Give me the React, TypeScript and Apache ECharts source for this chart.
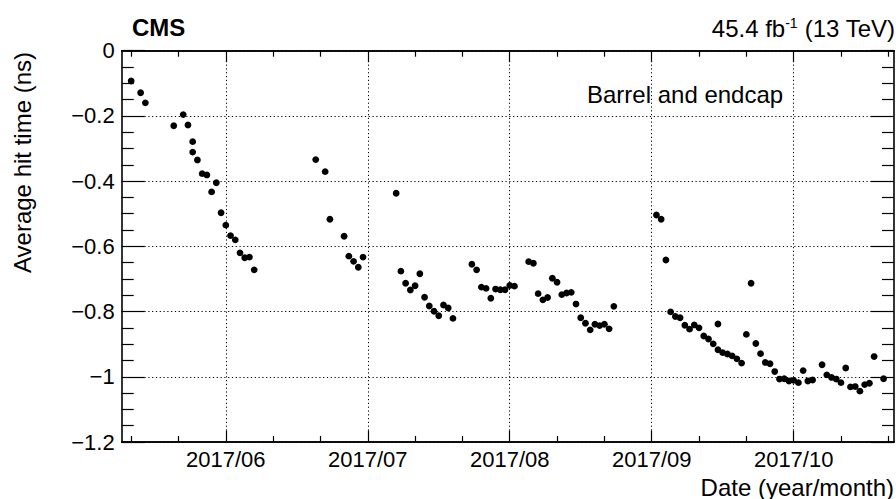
import React, { useEffect, useRef } from "react";
import * as echarts from "echarts";

// x: day index of 2017 (1 Jan = 0), y: average hit time (ns)
const dayIndex = [
  130, 132, 133, 139, 141, 142, 143, 143, 144, 145, 146, 147, 148, 149, 150, 151, 152, 153, 154, 155, 156,
  169, 171, 172, 175, 176, 177, 178, 179,
  186, 187, 188, 189, 190, 191, 192, 193, 194, 195, 196, 197, 198,
  202, 203, 204, 205, 206, 207, 208, 209, 210, 211,
  214, 215, 216, 217, 218, 219, 220, 221, 222, 223, 224, 225, 226, 227, 228, 229, 230, 231, 232,
  241, 242, 243, 244, 245, 246, 247, 248, 249, 250, 251, 252, 253, 254, 254, 255, 256, 257, 258, 259,
  260, 261, 262, 263, 264, 265, 266, 267, 268, 269, 270, 271, 272, 273, 274,
  276, 277, 278, 279, 280, 281, 282, 283, 284, 285, 286, 287, 289,
];
const hitTime = [
  -0.093, -0.129, -0.16, -0.23, -0.196, -0.228, -0.279, -0.311, -0.335, -0.377, -0.381, -0.433, -0.405, -0.497, -0.535, -0.567, -0.58, -0.62, -0.635, -0.633, -0.672,
  -0.334, -0.371, -0.517, -0.569, -0.63, -0.646, -0.664, -0.633,
  -0.437, -0.676, -0.713, -0.734, -0.721, -0.684, -0.756, -0.783, -0.799, -0.813, -0.78, -0.789, -0.821,
  -0.655, -0.672, -0.725, -0.729, -0.759, -0.731, -0.733, -0.733, -0.72, -0.722,
  -0.647, -0.652, -0.745, -0.764, -0.757, -0.698, -0.71, -0.748, -0.743, -0.741, -0.777, -0.819, -0.836, -0.856, -0.839, -0.843, -0.839, -0.853, -0.784,
  -0.504, -0.517, -0.642, -0.801, -0.815, -0.819, -0.842, -0.854, -0.841, -0.85, -0.875, -0.884, -0.899, -0.838, -0.917, -0.926, -0.93, -0.936, -0.945, -0.958,
  -0.87, -0.713, -0.898, -0.929, -0.956, -0.96, -0.984, -1.007, -1.006, -1.013, -1.011, -1.018, -0.981, -1.013, -1.01,
  -0.963, -0.994, -1.002, -1.007, -1.018, -0.973, -1.031, -1.03, -1.044, -1.024, -1.02, -0.938, -1.006,
];

const majorTicks = [150, 180, 210, 240, 270];
const majorLabels = ["2017/06", "2017/07", "2017/08", "2017/09", "2017/10"];
const minorTicks = [130, 140, 160, 170, 190, 200, 220, 230, 250, 260, 280, 290];

const X_MIN = 128.0;
const X_MAX = 291.2;
const FONT = "Liberation Sans";

export default function App() {
  const ref = useRef<HTMLDivElement>(null);

  useEffect(() => {
    if (!ref.current) return;
    const chart = echarts.init(ref.current, undefined, { renderer: "svg" });

    const tickLine = { color: "#000", width: 1.2 };
    const axisLine = { show: true, onZero: false, lineStyle: { color: "#000", width: 1.6 } };

    const makeX = (position: string, ticks: number[], len: number, labels: boolean) => ({
      type: "value",
      gridIndex: 0,
      position,
      min: X_MIN,
      max: X_MAX,
      axisLine,
      splitLine: { show: false },
      axisTick: { show: true, inside: true, length: len, customValues: ticks, lineStyle: tickLine },
      axisLabel: labels
        ? {
            show: true,
            customValues: majorTicks,
            margin: 6,
            fontSize: 22,
            fontFamily: FONT,
            color: "#000",
            formatter: (v: number) => {
              const i = majorTicks.findIndex((t) => Math.abs(t - v) < 0.5);
              return i >= 0 ? majorLabels[i] : "";
            },
          }
        : { show: false },
    });

    const makeY = (position: string, labels: boolean) => ({
      type: "value",
      gridIndex: 0,
      position,
      min: -1.2,
      max: 0,
      interval: 0.2,
      axisLine,
      axisTick: { show: true, inside: true, length: 23, lineStyle: tickLine },
      minorTick: { show: true, splitNumber: 4, length: 12, lineStyle: tickLine },
      splitLine: labels
        ? { show: true, lineStyle: { color: "#000", width: 1, type: [1.2, 2.6] } }
        : { show: false },
      axisLabel: labels
        ? {
            show: true,
            margin: 7,
            fontSize: 22,
            fontFamily: FONT,
            color: "#000",
            formatter: (v: number) =>
              Math.abs(v) < 1e-9 ? "0" : "\u2212" + String(Math.round(Math.abs(v) * 10) / 10),
          }
        : { show: false },
    });

    chart.setOption({
      animation: false,
      textStyle: { fontFamily: FONT },
      grid: { left: 121.7, right: 2, top: 50.7, bottom: 57, containLabel: false },
      xAxis: [
        makeX("bottom", majorTicks, 11.5, true),
        makeX("bottom", minorTicks, 6, false),
        makeX("top", majorTicks, 11.5, false),
        makeX("top", minorTicks, 6, false),
      ],
      yAxis: [makeY("left", true), makeY("right", false)],
      series: [
        {
          type: "scatter",
          xAxisIndex: 0,
          yAxisIndex: 0,
          symbol: "circle",
          symbolSize: 6.8,
          itemStyle: { color: "#000", opacity: 1 },
          data: dayIndex.map((d, i) => [d, hitTime[i]]),
          z: 5,
          markLine: {
            silent: true,
            symbol: ["none", "none"],
            label: { show: false },
            lineStyle: { color: "#000", width: 1, type: [1.2, 2.6], opacity: 1 },
            data: majorTicks.map((v) => ({ xAxis: v })),
          },
        },
      ],
      graphic: [
        {
          type: "text",
          x: 132,
          y: 27,
          style: { text: "CMS", fontSize: 24, fontWeight: "bold", fontFamily: FONT, fill: "#000", verticalAlign: "middle" },
        },
        {
          type: "text",
          x: 895,
          y: 28,
          style: {
            text: "{a|45.4 fb}{b|-1}{a| (13 TeV)}",
            align: "right",
            verticalAlign: "middle",
            fill: "#000",
            rich: {
              a: { fontSize: 24, fontFamily: FONT, fill: "#000" },
              b: { fontSize: 14, fontFamily: FONT, fill: "#000", verticalAlign: "top" },
            },
          },
        },
        {
          type: "text",
          x: 587,
          y: 94,
          style: { text: "Barrel and endcap", fontSize: 24, fontFamily: FONT, fill: "#000", verticalAlign: "middle" },
        },
        {
          type: "text",
          x: 894,
          y: 487,
          style: { text: "Date (year/month)", fontSize: 24, fontFamily: FONT, fill: "#000", align: "right", verticalAlign: "middle" },
        },
        {
          type: "text",
          x: 22,
          y: 52,
          rotation: Math.PI / 2,
          style: { text: "Average hit time (ns)", fontSize: 24, fontFamily: FONT, fill: "#000", align: "right", verticalAlign: "middle" },
        },
      ],
    });

    return () => chart.dispose();
  }, []);

  return <div ref={ref} style={{ position: "fixed", left: 0, top: 0, width: 896, height: 499, background: "#fff" }} />;
}
